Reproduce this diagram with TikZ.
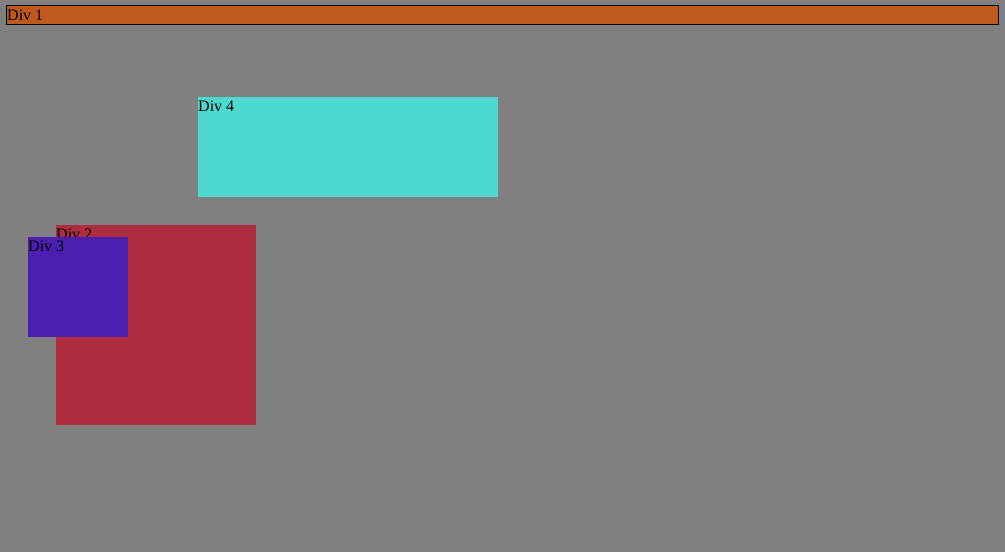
\documentclass[tikz,border=0pt]{standalone}
\usepackage{fontspec}
\setmainfont{Liberation Serif}
\definecolor{bg}{HTML}{808080}
\definecolor{cdiv1}{HTML}{BF5A1F}
\definecolor{cdiv2}{HTML}{AD2C3D}
\definecolor{cdiv3}{HTML}{4B1FB0}
\definecolor{cdiv4}{HTML}{4DD9D0}
\begin{document}
\begin{tikzpicture}[x=1pt,y=-1pt,
  box/.style={anchor=north west,inner sep=0pt,outer sep=0pt,draw=none},
  lbl/.style={anchor=base west,inner sep=0pt,font=\fontsize{16pt}{18pt}\selectfont}]
\fill[bg] (0,0) rectangle (1005,552);
\useasboundingbox (0,0) rectangle (1005,552);
% Div 1
\node[box,fill=cdiv1,draw=black,line width=1pt,minimum width=992pt,minimum height=19pt] (d1) at (6.5,5.5) {};
\node[lbl] (t1) at (7,20) {Div 1};
% Div 4
\node[box,fill=cdiv4,minimum width=300pt,minimum height=100pt] (d4) at (198,97) {};
\node[lbl] (t4) at (198,111) {Div 4};
% Div 2
\node[box,fill=cdiv2,minimum width=200pt,minimum height=200pt] (d2) at (56,225) {};
\node[lbl] (t2) at (56,239) {Div 2};
% Div 3
\node[box,fill=cdiv3,minimum width=100pt,minimum height=100pt] (d3) at (28,237) {};
\node[lbl] (t3) at (28,251) {Div 3};
\end{tikzpicture}
\end{document}
